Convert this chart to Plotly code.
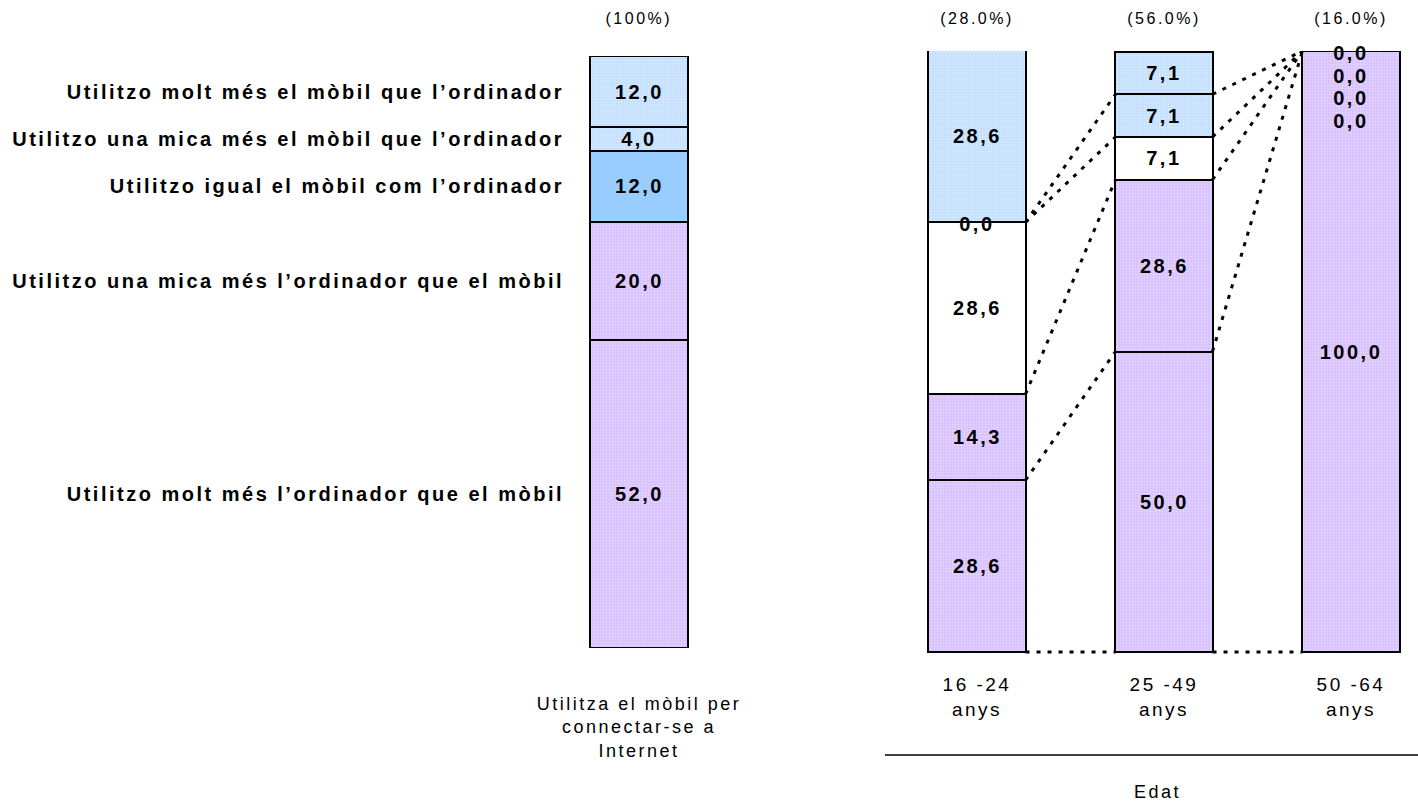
import plotly.graph_objects as go

# ---- data -------------------------------------------------------------
categories = [
    "Utilitzo molt més l’ordinador que el mòbil",
    "Utilitzo una mica més l’ordinador que el mòbil",
    "Utilitzo igual el mòbil com l’ordinador",
    "Utilitzo una mica més el mòbil que l’ordinador",
    "Utilitzo molt més el mòbil que l’ordinador",
]
total_values = [52.0, 20.0, 12.0, 4.0, 12.0]
total_label = "Utilitza el mòbil per<br>connectar-se a<br>Internet"
total_share = "(100%)"

age_groups = ["16 -24<br>anys", "25 -49<br>anys", "50 -64<br>anys"]
age_shares = ["(28.0%)", "(56.0%)", "(16.0%)"]
age_values = [
    [28.6, 50.0, 100.0],
    [14.3, 28.6, 0.0],
    [28.6, 7.1, 0.0],
    [0.0, 7.1, 0.0],
    [28.6, 7.1, 0.0],
]
axis_title = "Edat"

# ---- styles -----------------------------------------------------------
FONT = "Liberation Sans, Arial, sans-serif"
W, H = 1418, 803
LAV = dict(shape=".", bgcolor="#D6BEFF", fgcolor="#F2E9FF", size=3, solidity=0.45)
BLUE_DOT = dict(shape=".", bgcolor="#C0DDFF", fgcolor="#EDF5FF", size=3, solidity=0.45)
left_fills = [("#E0CCFF", LAV), ("#E0CCFF", LAV), ("#99CCFF", None),
              ("#D3E7FF", BLUE_DOT), ("#D3E7FF", BLUE_DOT)]
right_fills = [("#E0CCFF", LAV), ("#E0CCFF", LAV), ("#FFFFFF", None),
               ("#D3E7FF", BLUE_DOT), ("#D3E7FF", BLUE_DOT)]
OUTLINE = dict(color="#000000", width=2)
LEFT_W = 0.76
RIGHT_W = 0.519

# right panel: 6.01 px per percentage point; extra room below zero so the
# baseline series line is not clipped by the plot area
PX_PER_PT = 601 / 100
PAD_PX = 10


def fmt(v):
    return f"{v:.1f}".replace(".", ",")


def marker(fill):
    color, pattern = fill
    m = dict(color=color, line=OUTLINE)
    if pattern:
        m["pattern"] = pattern
    return m


fig = go.Figure()
for i, cat in enumerate(categories):
    fig.add_trace(go.Bar(x=[0], y=[total_values[i]], width=LEFT_W, name=cat,
                         marker=marker(left_fills[i]), xaxis="x", yaxis="y",
                         showlegend=False, hoverinfo="skip"))
    fig.add_trace(go.Bar(x=[0, 1, 2], y=age_values[i], width=RIGHT_W, name=cat,
                         marker=marker(right_fills[i]), xaxis="x2", yaxis="y2",
                         showlegend=False, hoverinfo="skip"))

annotations = []
label_font = dict(family=FONT, size=20, color="#000000", weight="bold")

# value labels, left stacked bar
cum = 0.0
mids = []
for v in total_values:
    mids.append(cum + v / 2)
    annotations.append(dict(x=0, y=cum + v / 2, xref="x", yref="y", text=fmt(v),
                            showarrow=False, font=label_font))
    cum += v

# value labels, age-group bars (zero segments are listed at their boundary)
cum_by_group = []
for g in range(len(age_groups)):
    cum = 0.0
    zero_idx = 0
    bounds = []
    for i in range(len(categories)):
        v = age_values[i][g]
        if v == 0:
            annotations.append(dict(x=g, y=cum, xref="x2", yref="y2", text=fmt(v),
                                    showarrow=False, font=label_font,
                                    yshift=-(2 + 22.5 * zero_idx)))
            zero_idx += 1
        else:
            annotations.append(dict(x=g, y=cum + v / 2, xref="x2", yref="y2",
                                    text=fmt(v), showarrow=False, font=label_font))
        cum += v
        bounds.append(cum)
    cum_by_group.append(bounds)

# group shares above bars
small_font = dict(family=FONT, size=16, color="#000000")
annotations.append(dict(x=0, y=100, xref="x", yref="y", text=total_share,
                        showarrow=False, font=small_font, yshift=38))
for g, s in enumerate(age_shares):
    annotations.append(dict(x=g, y=100, xref="x2", yref="y2", text=s,
                            showarrow=False, font=small_font, yshift=33))

annotations.append(dict(x=1157 / W, y=1 - 792 / H, xref="paper", yref="paper",
                        xanchor="center", yanchor="middle",
                        text=axis_title, showarrow=False,
                        font=dict(family=FONT, size=18, color="#000000")))

# series lines between the age-group bars
shapes = []
dot = dict(color="#000000", width=3, dash="4px,7px")
for g in range(len(age_groups) - 1):
    x0 = g + RIGHT_W / 2
    x1 = g + 1 - RIGHT_W / 2
    shapes.append(dict(type="line", xref="x2", yref="y2", x0=x0, x1=x1, y0=0, y1=0, line=dot))
    for k in range(len(categories) - 1):
        shapes.append(dict(type="line", xref="x2", yref="y2", x0=x0, x1=x1,
                           y0=cum_by_group[g][k], y1=cum_by_group[g + 1][k], line=dot))

shapes.append(dict(type="line", xref="paper", yref="paper", x0=885 / W, x1=1,
                   y0=1 - 755 / H, y1=1 - 755 / H, line=dict(color="#000000", width=1.5)))

r0 = -(977 - 870) / 187
r1 = r0 + (W - 870) / 187

fig.update_layout(
    width=W, height=H, autosize=False,
    margin=dict(l=0, r=0, t=0, b=0, pad=0, autoexpand=False),
    paper_bgcolor="#FFFFFF", plot_bgcolor="rgba(0,0,0,0)",
    barmode="stack", bargap=0, showlegend=False,
    font=dict(family=FONT, size=18, color="#000000"),
    xaxis=dict(domain=[575 / W, 703 / W], range=[-0.5, 0.5], anchor="y",
               tickvals=[0], ticktext=[total_label], showgrid=False, zeroline=False,
               showline=False, ticks="", ticklabelstandoff=43, automargin=False,
               tickfont=dict(family=FONT, size=18, color="#000000"), fixedrange=True),
    yaxis=dict(domain=[1 - 648 / H, 1 - 56 / H], range=[0, 100], anchor="x",
               tickvals=mids, ticktext=categories, showgrid=False, zeroline=False,
               showline=False, ticks="", ticklabelstandoff=10, automargin=False,
               tickfont=dict(family=FONT, size=20, color="#000000", weight="bold"),
               fixedrange=True),
    xaxis2=dict(domain=[870 / W, 1], range=[r0, r1], anchor="y2",
                tickvals=[0, 1, 2], ticktext=age_groups, showgrid=False, zeroline=False,
                showline=False, ticks="", ticklabelstandoff=9, automargin=False,
                tickfont=dict(family=FONT, size=19, color="#000000"), fixedrange=True),
    yaxis2=dict(domain=[1 - (652 + PAD_PX) / H, 1 - 51 / H],
                range=[-PAD_PX / PX_PER_PT, 100], anchor="x2",
                visible=False, automargin=False, fixedrange=True),
    annotations=annotations,
    shapes=shapes,
)

spacing_css = (
    "var s=document.createElement('style');"
    "s.textContent='.js-plotly-plot .plotly svg text{letter-spacing:2.5px}';"
    "document.head.appendChild(s);"
)
fig.write_html("out.html", config={"displayModeBar": False}, post_script=spacing_css)
